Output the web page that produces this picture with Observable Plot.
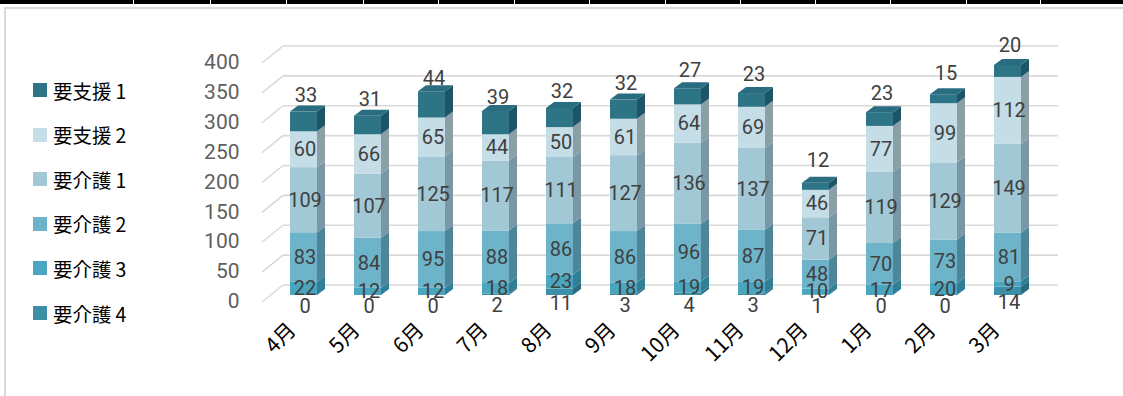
<!DOCTYPE html>
<html>
<head>
<meta charset="utf-8">
<script src="https://cdn.jsdelivr.net/npm/d3@7"></script>
<script src="https://cdn.jsdelivr.net/npm/@observablehq/plot@0.6"></script>
<style>
  html, body { margin: 0; padding: 0; background: #fff; }
  #wrap { position: relative; width: 1123px; height: 396px; overflow: hidden; background: #fff; }
  .topband { position: absolute; left: 0; top: 0; width: 1123px; height: 4px; background: #000; }
  .gap { position: absolute; top: 0; width: 1px; height: 4px; background: #fff; }
  .frame { position: absolute; left: 4px; top: 7px; right: -10px; bottom: -10px;
           border-left: 2px solid #d9d9d9; border-top: 2px solid #d9d9d9; }
  #chart { position: absolute; left: 0; top: 0; }
  #legend { position: absolute; left: 33px; top: 0; font-family: "Noto Sans CJK JP", sans-serif;
            font-size: 19.5px; color: #000; }
  .item { position: absolute; left: 0; height: 28px; display: flex; align-items: center; white-space: nowrap; }
  .sw { width: 14px; height: 14px; margin-right: 6px; flex: none; }
  .num { margin-left: 4px; }
</style>
</head>
<body>
<div id="wrap">
  <div class="topband"></div>
  <div class="frame"></div>
  <div id="chart"></div>
  <div id="legend"></div>
</div>
<script>
// Months (fiscal year, April to March)
const months = ["4月", "5月", "6月", "7月", "8月", "9月", "10月", "11月", "12月", "1月", "2月", "3月"];

// Care levels, stacked from the bottom up
const levels = ["要介護4", "要介護3", "要介護2", "要介護1", "要支援2", "要支援1"];

const care4    = [0, 0, 0, 2, 11, 3, 4, 3, 1, 0, 0, 14];
const care3    = [22, 12, 12, 18, 23, 18, 19, 19, 10, 17, 20, 9];
const care2    = [83, 84, 95, 88, 86, 86, 96, 87, 48, 70, 73, 81];
const care1    = [109, 107, 125, 117, 111, 127, 136, 137, 71, 119, 129, 149];
const support2 = [60, 66, 65, 44, 50, 61, 64, 69, 46, 77, 99, 112];
const support1 = [33, 31, 44, 39, 32, 32, 27, 23, 12, 23, 15, 20];

const yTicks = [0, 50, 100, 150, 200, 250, 300, 350, 400];

// Face colours per level: front, side
const frontColors = ["#3b8fa6", "#4aa6c0", "#6db4ca", "#a2c8d6", "#c4dde6", "#2e7487"];
const sideColors  = ["#2a6c7e", "#307f94", "#4e8697", "#7a97a3", "#8c9fa7", "#1e5566"];
const topColor = "#2b6d80";

// Stacked segments
const seriesValues = [care4, care3, care2, care1, support2, support1];
const rows = [];
months.forEach((m, i) => {
  let base = 0;
  levels.forEach((lv, k) => {
    const v = seriesValues[k][i];
    rows.push({month: m, level: lv, k, value: v, y1: base, y2: base + v, mid: base + v / 2});
    base += v;
  });
});
const tops = rows.filter(r => r.level === "要支援1");

// 3-D depth offsets (pixels)
const DX = 8, DY = 6;
const WALL_LEFT = 283, WALL_RIGHT = 1058, WALL_RISE = 10, FLOOR_DROP = 7, FLOOR_LEFT = 262;

// Back wall gridlines and the slanted floor edge on the left
function backWall(index, scales) {
  const {y} = scales;
  const g = d3.create("svg:g").attr("fill", "none").attr("stroke", "#d9d9d9").attr("stroke-width", 1.6);
  for (const v of yTicks) {
    const yy = y(v);
    g.append("line").attr("x1", WALL_LEFT).attr("x2", WALL_RIGHT)
      .attr("y1", yy - WALL_RISE).attr("y2", yy - WALL_RISE);
    g.append("line").attr("x1", FLOOR_LEFT).attr("y1", yy + FLOOR_DROP)
      .attr("x2", WALL_LEFT).attr("y2", yy - WALL_RISE);
  }
  return g.node();
}

// Right side faces of every segment and the top face of every column
function depthFaces(index, scales) {
  const {x, y} = scales;
  const bw = x.bandwidth();
  const g = d3.create("svg:g");
  for (const r of rows) {
    if (r.value === 0) continue;
    const xr = x(r.month) + bw, yt = y(r.y2), yb = y(r.y1);
    g.append("path")
      .attr("d", `M${xr},${yb}L${xr + DX},${yb - DY}L${xr + DX},${yt - DY}L${xr},${yt}Z`)
      .attr("fill", sideColors[r.k]);
  }
  for (const r of tops) {
    const xl = x(r.month), xr = xl + bw, yt = y(r.y2);
    g.append("path")
      .attr("d", `M${xl},${yt}L${xl + DX},${yt - DY}L${xr + DX},${yt - DY}L${xr},${yt}Z`)
      .attr("fill", topColor);
  }
  return g.node();
}

const inner = rows.filter(r => r.k >= 1 && r.k <= 4);
const bottom = rows.filter(r => r.k === 0);

const chart = Plot.plot({
  width: 1123,
  height: 396,
  marginTop: 56,
  marginBottom: 101,
  marginLeft: 250,
  marginRight: 62,
  style: {background: "transparent", fontFamily: "Roboto, sans-serif"},
  x: {domain: months, padding: 0.58, axis: null},
  y: {domain: [0, 400], axis: null},
  color: {domain: levels, range: frontColors},
  marks: [
    backWall,
    Plot.barY(rows, {x: "month", y1: "y1", y2: "y2", fill: "level"}),
    depthFaces,
    // value labels
    Plot.text(inner, {x: "month", y: "mid", text: "value", fontSize: 20, fill: "#404040", dx: 1}),
    Plot.text(bottom, {x: "month", y: "mid", text: "value", fontSize: 20, fill: "#404040", dx: 1, dy: 11}),
    Plot.text(tops, {x: "month", y: "mid", text: "value", fontSize: 20, fill: "#404040", dx: 2, dy: -26}),
    // y tick labels
    Plot.text(yTicks, {y: d => d, text: d => String(d), frameAnchor: "left", textAnchor: "end",
      dx: -11, dy: 6, fontSize: 21, fill: "#5f5f5f"}),
    // month labels
    Plot.text(months, {x: d => d, text: d => d, frameAnchor: "bottom", rotate: -45, textAnchor: "end",
      dx: -7, dy: 36, fontSize: 21, fill: "#000", fontFamily: "Noto Sans CJK JP"})
  ]
});
document.getElementById("chart").append(chart);

// Cell boundary marks on the top band
const wrap = document.getElementById("wrap");
[133, 210, 286, 363, 438, 514, 589, 665, 740, 815, 890, 966, 1040].forEach(px => {
  const d = document.createElement("div");
  d.className = "gap";
  d.style.left = px + "px";
  wrap.append(d);
});

// Legend, top level first
const legend = d3.select("#legend");
levels.slice().reverse().forEach((lv, i) => {
  const k = levels.indexOf(lv);
  const item = legend.append("div").attr("class", "item").style("top", (76 + i * 44.6) + "px");
  item.append("div").attr("class", "sw").style("background", frontColors[k]);
  const label = item.append("span");
  label.append("span").text(lv.slice(0, -1));
  label.append("span").attr("class", "num").text(lv.slice(-1));
});
</script>
</body>
</html>
